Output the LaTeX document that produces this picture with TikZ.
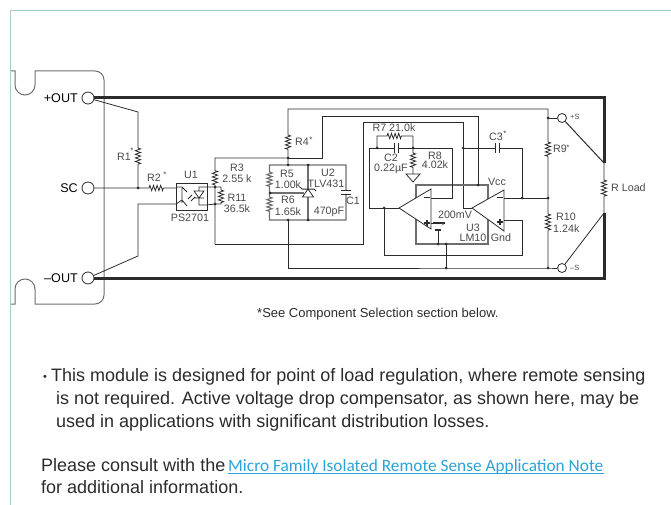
\documentclass[tikz,border=0pt]{standalone}
\usepackage{fontspec}
\setmainfont{Liberation Sans}
\newfontfamily\linkfont{Carlito}
\usetikzlibrary{decorations.pathmorphing}
\definecolor{framecol}{HTML}{A9CDD4}
\definecolor{inkcol}{HTML}{2B2B2B}
\definecolor{railcol}{HTML}{6E6E6E}
\definecolor{labcol}{HTML}{4A4A4A}
\definecolor{linkcol}{HTML}{2AA3D8}
\tikzset{
  wire/.style={draw=inkcol,line width=0.8pt},
  rail/.style={draw=railcol,line width=1.1pt},
  power/.style={draw=inkcol,line width=3pt,line cap=butt},
  zz/.style={decoration={zigzag,segment length=3.6,amplitude=2.6}},
  term/.style={circle,draw=inkcol,line width=0.8pt,fill=white,inner sep=0,minimum size=#1},
  lab/.style={inner sep=0,text=labcol,font=\fontsize{10.7}{10.7}\selectfont},
  tiny/.style={inner sep=0,text=labcol,font=\fontsize{8}{8}\selectfont},
  pin/.style={inner sep=0,text=black,font=\fontsize{12.6}{12.6}\selectfont,anchor=east},
  para/.style={inner sep=0,anchor=base west,text=inkcol,font=\fontsize{18}{18}\selectfont}
}
\begin{document}
\begin{tikzpicture}[x=1pt,y=-1pt]
\path[use as bounding box] (0,0) rectangle (671,505);

% frame
\draw[framecol,line width=1pt] (671,11) -- (10.5,11) -- (10.5,505);

% module outline
\draw[railcol,line width=1pt] (11,71) -- (15,71) -- (15,85) arc (180:0:10) -- (35,71) -- (95,71)
      arc (-90:0:9) -- (104,295) arc (0:90:9) -- (35,304) -- (35,289) arc (0:-180:10) -- (15,304) -- (11,304);

% terminals
\node[term=12] (pout) at (88,98) {};
\node[term=12] (sc) at (88,188) {};
\node[term=12] (mout) at (88,278) {};
\node[term=9] (ps) at (562,118) {};
\node[term=9] (ms) at (562,268) {};
\node[pin] (poutlab) at (78,98) {+OUT};
\node[pin] (sclab) at (78,188) {SC};
\node[pin] (moutlab) at (78,278) {–OUT};
\node[lab,font=\fontsize{7.5}{7.5}\selectfont,anchor=west] (pslab) at (570,117) {+S};
\node[lab,font=\fontsize{7.5}{7.5}\selectfont,anchor=west] (mslab) at (570,268) {–S};

% named points
\coordinate (jrone) at (138,188);
\coordinate (jrthree) at (215,187);
\coordinate (jreleven) at (215,204);
\coordinate (jtop) at (288,158);
\coordinate (jbox) at (288,165);
\coordinate (jlow) at (288,220);
\coordinate (jzt) at (308,165);
\coordinate (jzb) at (308,220);
\coordinate (jdiv) at (270,193);
\coordinate (jvcc) at (478,185);
\coordinate (joutb) at (384,208);
\coordinate (jrseven) at (377,148);
\coordinate (jreight) at (413,148);
\coordinate (jcthree) at (463,148);
\coordinate (jbat) at (438,244);
\coordinate (jgnd) at (446,244);
\coordinate (jret) at (446,268);
\coordinate (jfb) at (522,198);
\coordinate (jnine) at (548,118);
\coordinate (jmid) at (548,198);
\coordinate (jten) at (548,268);
\coordinate (loadt) at (604,163);
\coordinate (loadb) at (604,213);

% load
\draw[power,line join=miter] (pout.east) -- (604,98) -- (loadt);
\draw[power,line join=miter] (mout.east) -- (604,278) -- (loadb);
\draw[wire] (loadt) -- (604,180) decorate[zz]{-- (604,197)} -- (loadb);
\draw[wire,line width=1pt] (ps) -- (loadt);
\draw[wire] (ms) -- (loadb);
\node[lab,anchor=west] (rload) at (611,188) {R Load};

% left side
\draw[wire] (pout) -- (138,112) -- (138,148) decorate[zz]{-- (138,165)} -- (jrone);
\draw[wire] (sc) -- (jrone) -- (149,188) decorate[zz]{-- (165,188)} -- (176,188);
\draw[wire] (mout) -- (138,256) -- (138,204) -- (176,204);
\node[lab,anchor=east] (rone) at (131,157) {R1};
\node[tiny] (ronestar) at (132,151) {*};
\node[lab] (rtwo) at (154,178) {R2};
\node[tiny] (rtwostar) at (165,175) {*};

% U1
\draw[wire] (176,183) rectangle (207,210);
\draw[wire] (176,187) -- (182,187) -- (187,192) (182,188) -- (182,203)
      (176,204) -- (182,200) -- (187,206) (207,187) -- (199,187) -- (199,191)
      (207,205) -- (199,205) -- (199,198) (194,191) -- (204,191)
      (194,191) -- (199,198) -- (204,191) -- cycle (194,198) -- (204,198)
      (188,199) -- (192,195) (191,201) -- (195,197);
\draw[wire] (207,187) -- (jrthree) (207,205) -- (jreleven);
\node[lab] (uone) at (191,175) {U1};
\node[lab] (ps2701) at (190,218) {PS2701};

% R3 and R11
\draw[wire] (215,244) -- (jreleven) -- (jrthree) -- (215,185) decorate[zz]{-- (215,169)} -- (215,158) -- (jtop);
\draw[wire] (jrthree) -- (221,187) -- (221,190) decorate[zz]{-- (221,203)} -- (221,204) -- (jreleven);
\node[lab] (rthree) at (237,168) {R3};
\node[lab] (rthreeval) at (237,179) {2.55 k};
\node[lab] (releven) at (237,198) {R11};
\node[lab] (relevenval) at (237,209) {36.5k};

% R4
\draw[wire] (548,109) -- (288,109) -- (288,135) decorate[zz]{-- (288,150)} -- (jbox);
\draw[wire] (jtop) -- (322,158) -- (322,116) -- (478,116) -- (jvcc);
\node[lab,anchor=west] (rfour) at (295,142) {R4};
\node[tiny] (rfourstar) at (311,140) {*};

% U2 box
\draw[rail] (346,190) -- (346,165) -- (269.5,165) -- (269.5,172) decorate[zz]{-- (269.5,187)} -- (269.5,197)
      decorate[zz]{-- (269.5,213)} -- (269.5,220) -- (346,220) -- (346,194);
\draw[rail] (jzt) -- (jzb);
\draw[rail] (jdiv) -- (304,193);
\draw[wire,fill=white] (308,189) -- (302.5,197) -- (313.5,197) -- cycle;
\draw[wire,line width=1pt] (300,187) -- (302,189) -- (314,189) -- (316,191);
\draw[wire,line width=1pt] (341,190) -- (351,190) (341,194) -- (351,194);
\node[lab] (rfive) at (287,174) {R5};
\node[lab] (rfiveval) at (288,185) {1.00k};
\node[lab] (rsix) at (288,200) {R6};
\node[lab] (rsixval) at (288,212) {1.65k};
\node[lab] (utwo) at (328,173) {U2};
\node[lab] (tlv) at (326,184) {TLV431};
\node[lab] (cone) at (353,201) {C1};
\node[lab] (cval) at (329,212) {470pF};

% returns
\draw[wire] (jlow) -- (288,268) -- (548,268) -- (ms);
\draw[wire] (215,244) -- (363,244) -- (363,122) -- (463,122) -- (463,208) -- (472,208);

% op amp box
\draw[rail] (416,185) rectangle (488,244);

% feedback around U3a
\draw[wire] (399,208) -- (369,208) -- (369,148) -- (394,148) (398,148) -- (452,148) -- (452,198) -- (431,198);
\draw[wire,line width=1pt] (394,143) -- (394,153) (398,143) -- (398,153);
\draw[wire] (jrseven) -- (377,136) -- (387,136) decorate[zz]{-- (402,136)} -- (413,136) -- (jreight);
\draw[wire] (jreight) -- (413,153) decorate[zz]{-- (413,168)} -- (413,174);
\draw[wire] (406,174) -- (420,174) -- (413,182) -- cycle;
\node[lab] (rseven) at (394,128) {R7 21.0k};
\node[lab] (ctwo) at (391,158) {C2};
\node[lab] (ctwoval) at (391,169) {0.22µF};
\node[lab] (reight) at (435,156) {R8};
\node[lab] (reightval) at (435,165) {4.02k};

% U3a
\draw[wire,fill=white] (399,208) -- (431,189) -- (431,229) -- cycle;
\draw[wire,line width=1.2pt] (424,197.5) -- (430,197.5) (424,223) -- (430,223) (427,220) -- (427,226);
\draw[wire] (431,223) -- (438,223);
\draw[wire,line width=1.2pt] (433,223) -- (445,223);
\draw[wire,line width=1.2pt] (435,230) -- (441,230);
\draw[wire] (438,230) -- (jbat);
\node[tiny] (batstar) at (443,226) {*};
\node[lab] (bat) at (455,215) {200mV};

% U3b
\draw[wire,fill=white] (472,208) -- (504,190) -- (504,231) -- cycle;
\draw[wire,line width=1.2pt] (497,197.5) -- (503,197.5) (497,222) -- (503,222) (500,219) -- (500,225);
\draw[wire] (jcthree) -- (495,148) (499,148) -- (522,148) -- (jfb) -- (504,198);
\draw[wire,line width=1pt] (495,143) -- (495,153) (499,143) -- (499,153);
\draw[wire] (jfb) -- (jmid);
\draw[wire] (504,220) -- (522,220) -- (522,255) -- (384,255) -- (joutb);
\draw[wire] (jgnd) -- (jret);
\node[lab] (cthree) at (496,137) {C3};
\node[tiny] (cthreestar) at (505,134) {*};
\node[lab] (vcc) at (497,182) {Vcc};
\node[lab] (uthree) at (473,228) {U3};
\node[lab] (lmten) at (473,238) {LM10};
\node[lab] (gnd) at (501,238) {Gnd};

% R9 and R10
\draw[wire] (jnine) -- (ps);
\draw[wire] (548,109) -- (jnine) -- (548,142) decorate[zz]{-- (548,157)} -- (jmid) -- (548,214) decorate[zz]{-- (548,231)} -- (jten);
\node[lab,anchor=west] (rnine) at (553,149) {R9};
\node[tiny] (rninestar) at (568,148) {*};
\node[lab,anchor=west] (rten) at (556,217) {R10};
\node[lab,anchor=west] (rtenval) at (553,229) {1.24k};

% dots
\foreach \pt in {jrone,jrthree,jreleven,jtop,jbox,jlow,jzt,jzb,jdiv,jvcc,joutb,jrseven,jreight,jcthree,jbat,jgnd,jret,jfb,jnine,jmid,jten}
  \fill[inkcol] (\pt) circle (1.5);

% notes
\node[inner sep=0,anchor=base west,text=inkcol,font=\fontsize{13}{13}\selectfont] (note) at (257,317) {*See Component Selection section below.};
\node[para,font=\fontsize{11}{11}\selectfont] (bullet) at (43,380) {•};
\node[para] (lineone) at (51,381) {This module is designed for point of load regulation, where remote sensing};
\node[para] (linetwo) at (56,404) {is not required. Active voltage drop compensator, as shown here, may be};
\node[para] (linethree) at (56,427) {used in applications with significant distribution losses.};
\node[para] (linefour) at (41,471) {Please consult with the};
\node[para,text=linkcol,font=\linkfont\fontsize{17.3}{17.3}\selectfont] (link) at (228,471) {Micro Family Isolated Remote Sense Application Note};
\draw[linkcol,line width=0.7pt] (link.base west) ++(0,2.5) -- ++(376,0);
\node[para] (linefive) at (41,493) {for additional information.};
\end{tikzpicture}
\end{document}
